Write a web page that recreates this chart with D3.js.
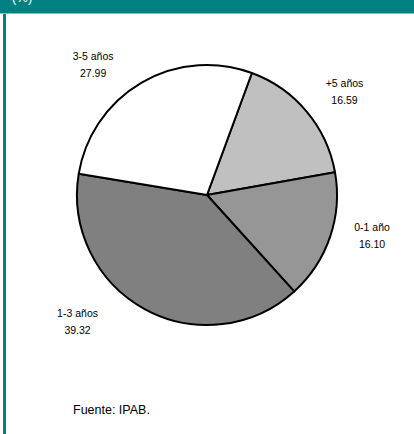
<!doctype html>
<html lang="es">
<head>
<meta charset="utf-8">
<title>Pie IPAB</title>
<script src="https://cdn.jsdelivr.net/npm/d3@7"></script>
<style>
  html, body { margin: 0; padding: 0; background: #fff; }
  svg { display: block; font-family: "Liberation Sans", Arial, sans-serif; }
</style>
</head>
<body>
<div id="chart"></div>
<script>
  // data
  const categories = ['+5 años', '0-1 año', '1-3 años', '3-5 años'];
  const values = [16.59, 16.10, 39.32, 27.99];
  const colours = ['#c0c0c0', '#969696', '#808080', '#ffffff'];

  const width = 414, height = 434;
  const cx = 207, cy = 195, radius = 130;

  const svg = d3.select('#chart').append('svg')
    .attr('width', width)
    .attr('height', height);

  // frame: teal header strip + left rule
  svg.append('rect').attr('x', 0).attr('y', 0).attr('width', width).attr('height', 13).attr('fill', '#008080');
  svg.append('rect').attr('x', 0).attr('y', 13).attr('width', width).attr('height', 1).attr('fill', '#7fc4c4');
  svg.append('rect').attr('x', 3).attr('y', 14).attr('width', 3).attr('height', height - 14).attr('fill', '#008080');
  svg.append('text').attr('x', 12).attr('y', 2).attr('fill', '#fff')
    .style('font-size', '13px').text('(%)');

  const data = categories.map((c, i) => ({ name: c, value: values[i], colour: colours[i] }));

  const start = 20.2 * Math.PI / 180;
  const pie = d3.pie()
    .sort(null)
    .value(d => d.value)
    .startAngle(start)
    .endAngle(start + 2 * Math.PI);

  const arc = d3.arc().innerRadius(0).outerRadius(radius);

  const g = svg.append('g').attr('transform', `translate(${cx},${cy})`);

  const arcs = pie(data);

  g.selectAll('path.slice')
    .data(arcs)
    .enter().append('path')
    .attr('class', 'slice')
    .attr('d', arc)
    .attr('fill', d => d.data.colour)
    .attr('stroke', '#000')
    .attr('stroke-width', 2)
    .attr('stroke-linejoin', 'round');

  // label placement: nudge from each slice's mid angle (degrees) and radius
  const labelShift = [3, -5, 17, -11];
  const labelR = [172, 170, 181, 173];
  const labelPos = d => {
    const a = (d.startAngle + d.endAngle) / 2 + labelShift[d.index] * Math.PI / 180;
    const r = labelR[d.index];
    return [Math.sin(a) * r, -Math.cos(a) * r];
  };

  const labels = g.selectAll('text.lbl')
    .data(arcs)
    .enter().append('text')
    .attr('class', 'lbl')
    .attr('text-anchor', 'middle')
    .style('font-size', '10.5px')
    .attr('fill', '#000')
    .attr('transform', d => `translate(${labelPos(d)})`);

  labels.append('tspan').attr('x', 0).attr('y', -4.5).text(d => d.data.name);
  labels.append('tspan').attr('x', 0).attr('y', 12.5).text(d => d.data.value.toFixed(2));

  svg.append('text')
    .attr('x', 73).attr('y', 414)
    .style('font-size', '12.5px')
    .text('Fuente: IPAB.');
</script>
</body>
</html>
